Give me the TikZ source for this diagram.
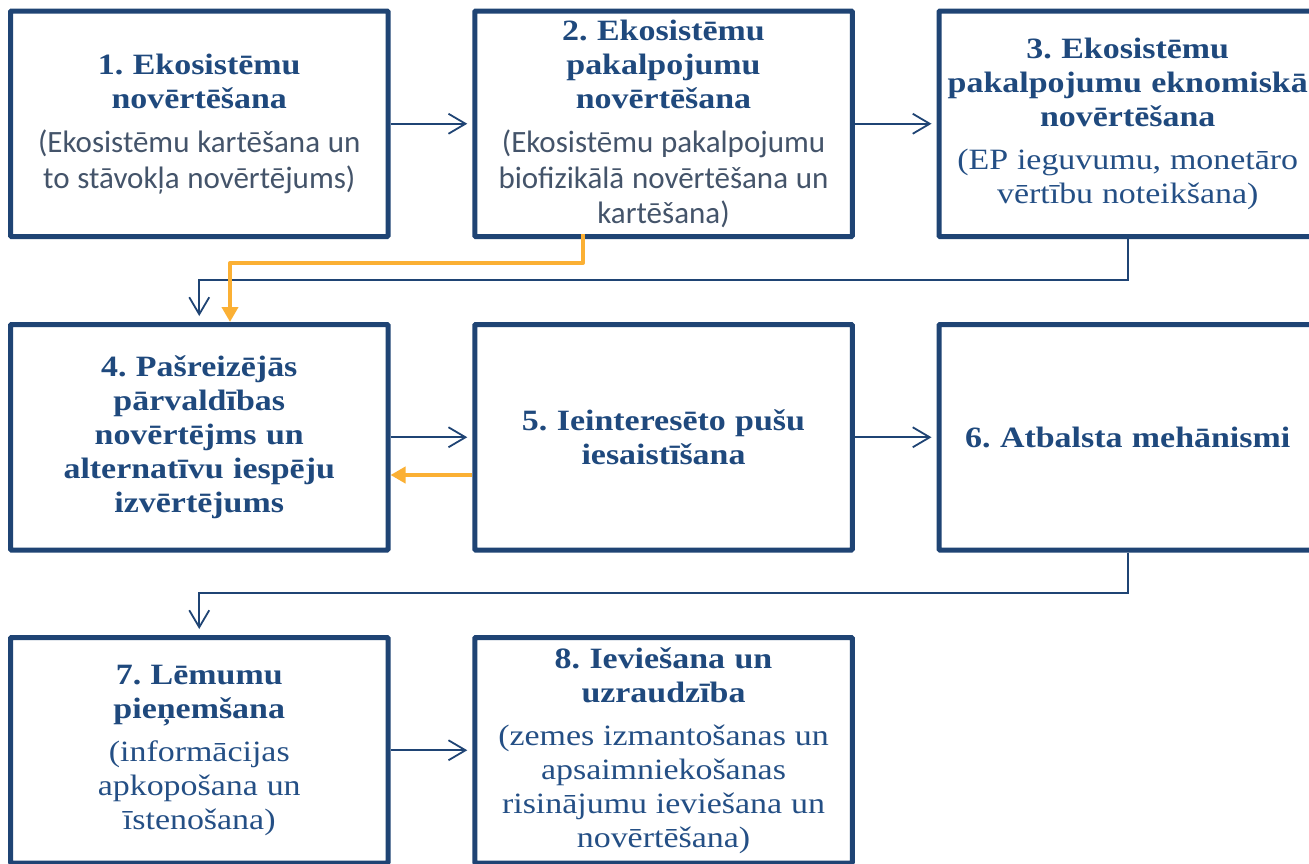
\documentclass[tikz,border=0pt]{standalone}
\usepackage{fontspec}
\usetikzlibrary{arrows.meta}
\newfontfamily\boxserif{Liberation Serif}[FakeStretch=1.15]
\newfontfamily\boxsans{Carlito}
\definecolor{boxblue}{RGB}{31,68,116}
\definecolor{titleblue}{RGB}{31,73,125}
\definecolor{graytext}{RGB}{68,84,106}
\definecolor{subblue}{RGB}{36,79,133}
\definecolor{orangec}{RGB}{251,176,52}
\newcommand\boxtitle{\boxserif\bfseries\fontsize{29.5}{34}\selectfont\color{titleblue}\spaceskip=0.32em\relax\xspaceskip=0.32em\relax}
\newcommand\boxsubsans{\boxsans\mdseries\fontsize{31}{35.5}\selectfont\color{graytext}\spaceskip=0.25em\relax\xspaceskip=0.25em\relax}
\newcommand\boxsubserif{\boxserif\mdseries\fontsize{29.5}{34}\selectfont\color{subblue}\spaceskip=0.3em\relax\xspaceskip=0.3em\relax}
\tikzset{
  stepbox/.style={draw=boxblue, line width=5pt, rectangle, rounded corners=1pt,
    minimum width=377.5pt, minimum height=225.5pt, text width=370pt,
    align=flush center, inner sep=0pt, fill=white},
  conn/.style={draw=boxblue, line width=1.8pt, -{Straight Barb[length=17pt,width=20pt]}},
  oconn/.style={draw=orangec, line width=4pt, -{Triangle[length=15pt,width=16pt]}},
}
\begin{document}
\begin{tikzpicture}[x=1pt,y=-1pt]
\useasboundingbox (0,0) rectangle (1309,863);
\clip (0,0) rectangle (1309,863);
\fill[white] (0,0) rectangle (1309,863);

\node[stepbox] (b1) at (199.25,123.75) {\boxtitle 1. Ekosistēmu\\novērtēšana\par\vspace{9pt}\boxsubsans (Ekosistēmu kartēšana un\\to stāvokļa novērtējums)\par};
\node[stepbox] (b2) at (663.5,123.75) {\boxtitle 2. Ekosistēmu\\pakalpojumu\\novērtēšana\par\vspace{9pt}\boxsubsans (Ekosistēmu pakalpojumu\\biofizikālā novērtēšana un\\kartēšana)\par};
\node[stepbox] (b3) at (1127.75,123.75) {\boxtitle 3. Ekosistēmu\\pakalpojumu eknomiskā\\novērtēšana\par\vspace{9pt}\boxsubserif (EP ieguvumu, monetāro\\vērtību noteikšana)\par};

\node[stepbox] (b4) at (199.25,437.25) {\boxtitle 4. Pašreizējās\\pārvaldības\\novērtējms un\\alternatīvu iespēju\\izvērtējums\par};
\node[stepbox] (b5) at (663.5,437.25) {\boxtitle 5. Ieinteresēto pušu\\iesaistīšana\par};
\node[stepbox] (b6) at (1127.75,437.25) {\boxtitle 6. Atbalsta mehānismi\par};

\node[stepbox] (b7) at (199.25,750.25) {\boxtitle 7. Lēmumu\\pieņemšana\par\vspace{9pt}\boxsubserif (informācijas\\apkopošana un\\īstenošana)\par};
\node[stepbox] (b8) at (663.5,750.25) {\boxtitle 8. Ieviešana un\\uzraudzība\par\vspace{9pt}\boxsubserif (zemes izmantošanas un\\apsaimniekošanas\\risinājumu ieviešana un\\novērtēšana)\par};

% horizontal connectors
\draw[conn, shorten >=5pt] (b1.east) -- (b2.west);
\draw[conn, shorten >=5pt] (b2.east) -- (b3.west);
\draw[conn, shorten >=5pt] (b4.east) -- (b5.west);
\draw[conn, shorten >=5pt] (b5.east) -- (b6.west);
\draw[conn, shorten >=5pt] (b7.east) -- (b8.west);

% row changes
\coordinate (j1) at (199.25,280);
\draw[conn, shorten >=6pt] (b3.south) |- (j1) -- (b4.north);
\coordinate (j2) at (199.25,593);
\draw[conn, shorten >=6pt] (b6.south) |- (j2) -- (b7.north);

% orange feedback
\coordinate (o1) at (583,234);
\coordinate (o2) at (230,263);
\draw[oconn, line join=round] (o1) |- (o2) -- (o2 |- b4.north);
\coordinate (o3) at (0,475);
\draw[oconn] (b5.west |- o3) -- (b4.east |- o3);
\end{tikzpicture}
\end{document}
